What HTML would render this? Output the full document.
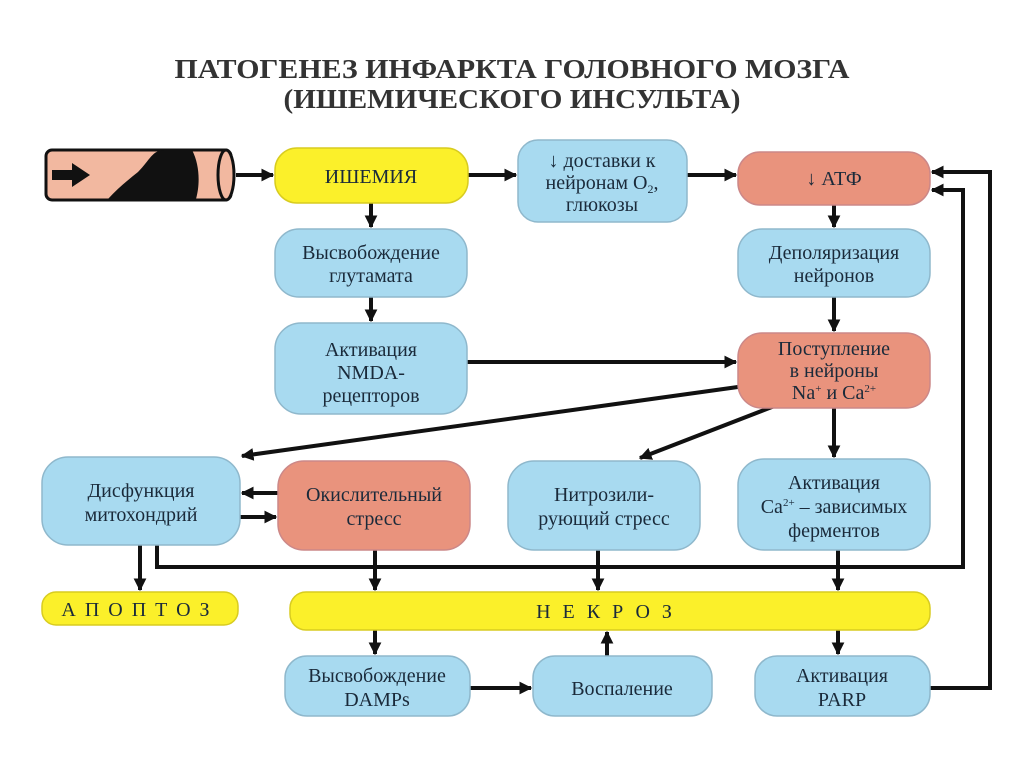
<!DOCTYPE html>
<html><head><meta charset="utf-8"><style>
body{margin:0;background:#fff;}
svg{display:block;}
text{font-family:"Liberation Serif","DejaVu Serif",serif;fill:#1a2a3a;text-anchor:middle;}
</style></head><body>
<svg width="1024" height="767" viewBox="0 0 1024 767" xmlns="http://www.w3.org/2000/svg">
<defs>
<marker id="a" viewBox="0 0 10 10" refX="9" refY="5" markerWidth="3.2" markerHeight="3.2" orient="auto"><path d="M0,0 L10,5 L0,10 z" fill="#111"/></marker>
</defs>
<text x="512" y="78" font-size="27" font-weight="bold" style="fill:#333" textLength="675" lengthAdjust="spacingAndGlyphs">ПАТОГЕНЕЗ ИНФАРКТА ГОЛОВНОГО МОЗГА</text>
<text x="512" y="108" font-size="27" font-weight="bold" style="fill:#333" textLength="457" lengthAdjust="spacingAndGlyphs">(ИШЕМИЧЕСКОГО ИНСУЛЬТА)</text>

<!-- vessel -->
<rect x="46" y="150" width="185" height="50" rx="6" fill="#f2b8a0" stroke="#111" stroke-width="3"/>
<path d="M108,199 C118,188 128,180 138,172 C150,160 152,150 165,150 L192,150 C200,165 200,185 196,199 Z" fill="#111"/>
<ellipse cx="226" cy="175" rx="8" ry="25" fill="#f2b8a0" stroke="#111" stroke-width="3"/>
<path d="M52,170 L72,170 L72,163 L90,175 L72,187 L72,180 L52,180 Z" fill="#111"/>

<g stroke="#111" stroke-width="4" fill="none" marker-end="url(#a)">
<line x1="236" y1="175" x2="273" y2="175"/>
<line x1="468" y1="175" x2="516" y2="175"/>
<line x1="687" y1="175" x2="736" y2="175"/>
<line x1="371" y1="203" x2="371" y2="227"/>
<line x1="371" y1="297" x2="371" y2="321"/>
<line x1="834" y1="205" x2="834" y2="227"/>
<line x1="834" y1="297" x2="834" y2="331"/>
<line x1="467" y1="362" x2="736" y2="362"/>
<line x1="745" y1="386" x2="242" y2="456"/>
<line x1="790" y1="400" x2="640" y2="458"/>
<line x1="834" y1="408" x2="834" y2="457"/>
<line x1="278" y1="493" x2="242" y2="493"/>
<line x1="240" y1="517" x2="276" y2="517"/>
<line x1="140" y1="545" x2="140" y2="590"/>
<line x1="375" y1="550" x2="375" y2="590"/>
<line x1="598" y1="550" x2="598" y2="590"/>
<line x1="838" y1="550" x2="838" y2="590"/>
<line x1="375" y1="630" x2="375" y2="654"/>
<line x1="607" y1="656" x2="607" y2="632"/>
<line x1="838" y1="630" x2="838" y2="654"/>
<line x1="470" y1="688" x2="531" y2="688"/>
<polyline points="930,688 990,688 990,172 932,172"/>
<polyline points="157,545 157,567 963,567 963,190 932,190"/>
</g>

<g stroke="#8fb8cc" stroke-width="1.5">
<rect x="275" y="148" width="193" height="55" rx="22" fill="#fbf02a" stroke="#d8cc20"/>
<rect x="518" y="140" width="169" height="82" rx="20" fill="#a8daf0"/>
<rect x="738" y="152" width="192" height="53" rx="22" fill="#e9937d" stroke="#c88"/>
<rect x="275" y="229" width="192" height="68" rx="24" fill="#a8daf0"/>
<rect x="275" y="323" width="192" height="91" rx="26" fill="#a8daf0"/>
<rect x="738" y="229" width="192" height="68" rx="24" fill="#a8daf0"/>
<rect x="738" y="333" width="192" height="75" rx="24" fill="#e9937d" stroke="#c88"/>
<rect x="42" y="457" width="198" height="88" rx="26" fill="#a8daf0"/>
<rect x="278" y="461" width="192" height="89" rx="26" fill="#e9937d" stroke="#c88"/>
<rect x="508" y="461" width="192" height="89" rx="26" fill="#a8daf0"/>
<rect x="738" y="459" width="192" height="91" rx="26" fill="#a8daf0"/>
<rect x="42" y="592" width="196" height="33" rx="14" fill="#fbf02a" stroke="#d8cc20"/>
<rect x="290" y="592" width="640" height="38" rx="16" fill="#fbf02a" stroke="#d8cc20"/>
<rect x="285" y="656" width="185" height="60" rx="22" fill="#a8daf0"/>
<rect x="533" y="656" width="179" height="60" rx="22" fill="#a8daf0"/>
<rect x="755" y="656" width="175" height="60" rx="22" fill="#a8daf0"/>
</g>

<g font-size="20">
<text x="371" y="183">ИШЕМИЯ</text>
<text x="602" y="167">↓ доставки к</text>
<text x="602" y="189">нейронам О<tspan font-size="12" dy="4">2</tspan><tspan dy="-4">,</tspan></text>
<text x="602" y="211">глюкозы</text>
<text x="834" y="185">↓ АТФ</text>
<text x="371" y="259">Высвобождение</text>
<text x="371" y="282">глутамата</text>
<text x="371" y="356">Активация</text>
<text x="371" y="379">NMDA-</text>
<text x="371" y="402">рецепторов</text>
<text x="834" y="259">Деполяризация</text>
<text x="834" y="282">нейронов</text>
<text x="834" y="355">Поступление</text>
<text x="834" y="377">в нейроны</text>
<text x="834" y="399">Na<tspan font-size="11" dy="-7">+</tspan><tspan dy="7"> и Ca</tspan><tspan font-size="11" dy="-7">2+</tspan></text>
<text x="141" y="497">Дисфункция</text>
<text x="141" y="521">митохондрий</text>
<text x="374" y="501">Окислительный</text>
<text x="374" y="525">стресс</text>
<text x="604" y="501">Нитрозили-</text>
<text x="604" y="525">рующий стресс</text>
<text x="834" y="489">Активация</text>
<text x="834" y="513">Ca<tspan font-size="11" dy="-7">2+</tspan><tspan dy="7"> – зависимых</tspan></text>
<text x="834" y="537">ферментов</text>
<text x="140" y="616" letter-spacing="9">АПОПТОЗ</text>
<text x="610" y="618" letter-spacing="12">НЕКРОЗ</text>
<text x="377" y="682">Высвобождение</text>
<text x="377" y="706">DAMPs</text>
<text x="622" y="695">Воспаление</text>
<text x="842" y="682">Активация</text>
<text x="842" y="706">PARP</text>
</g>
</svg>
</body></html>
